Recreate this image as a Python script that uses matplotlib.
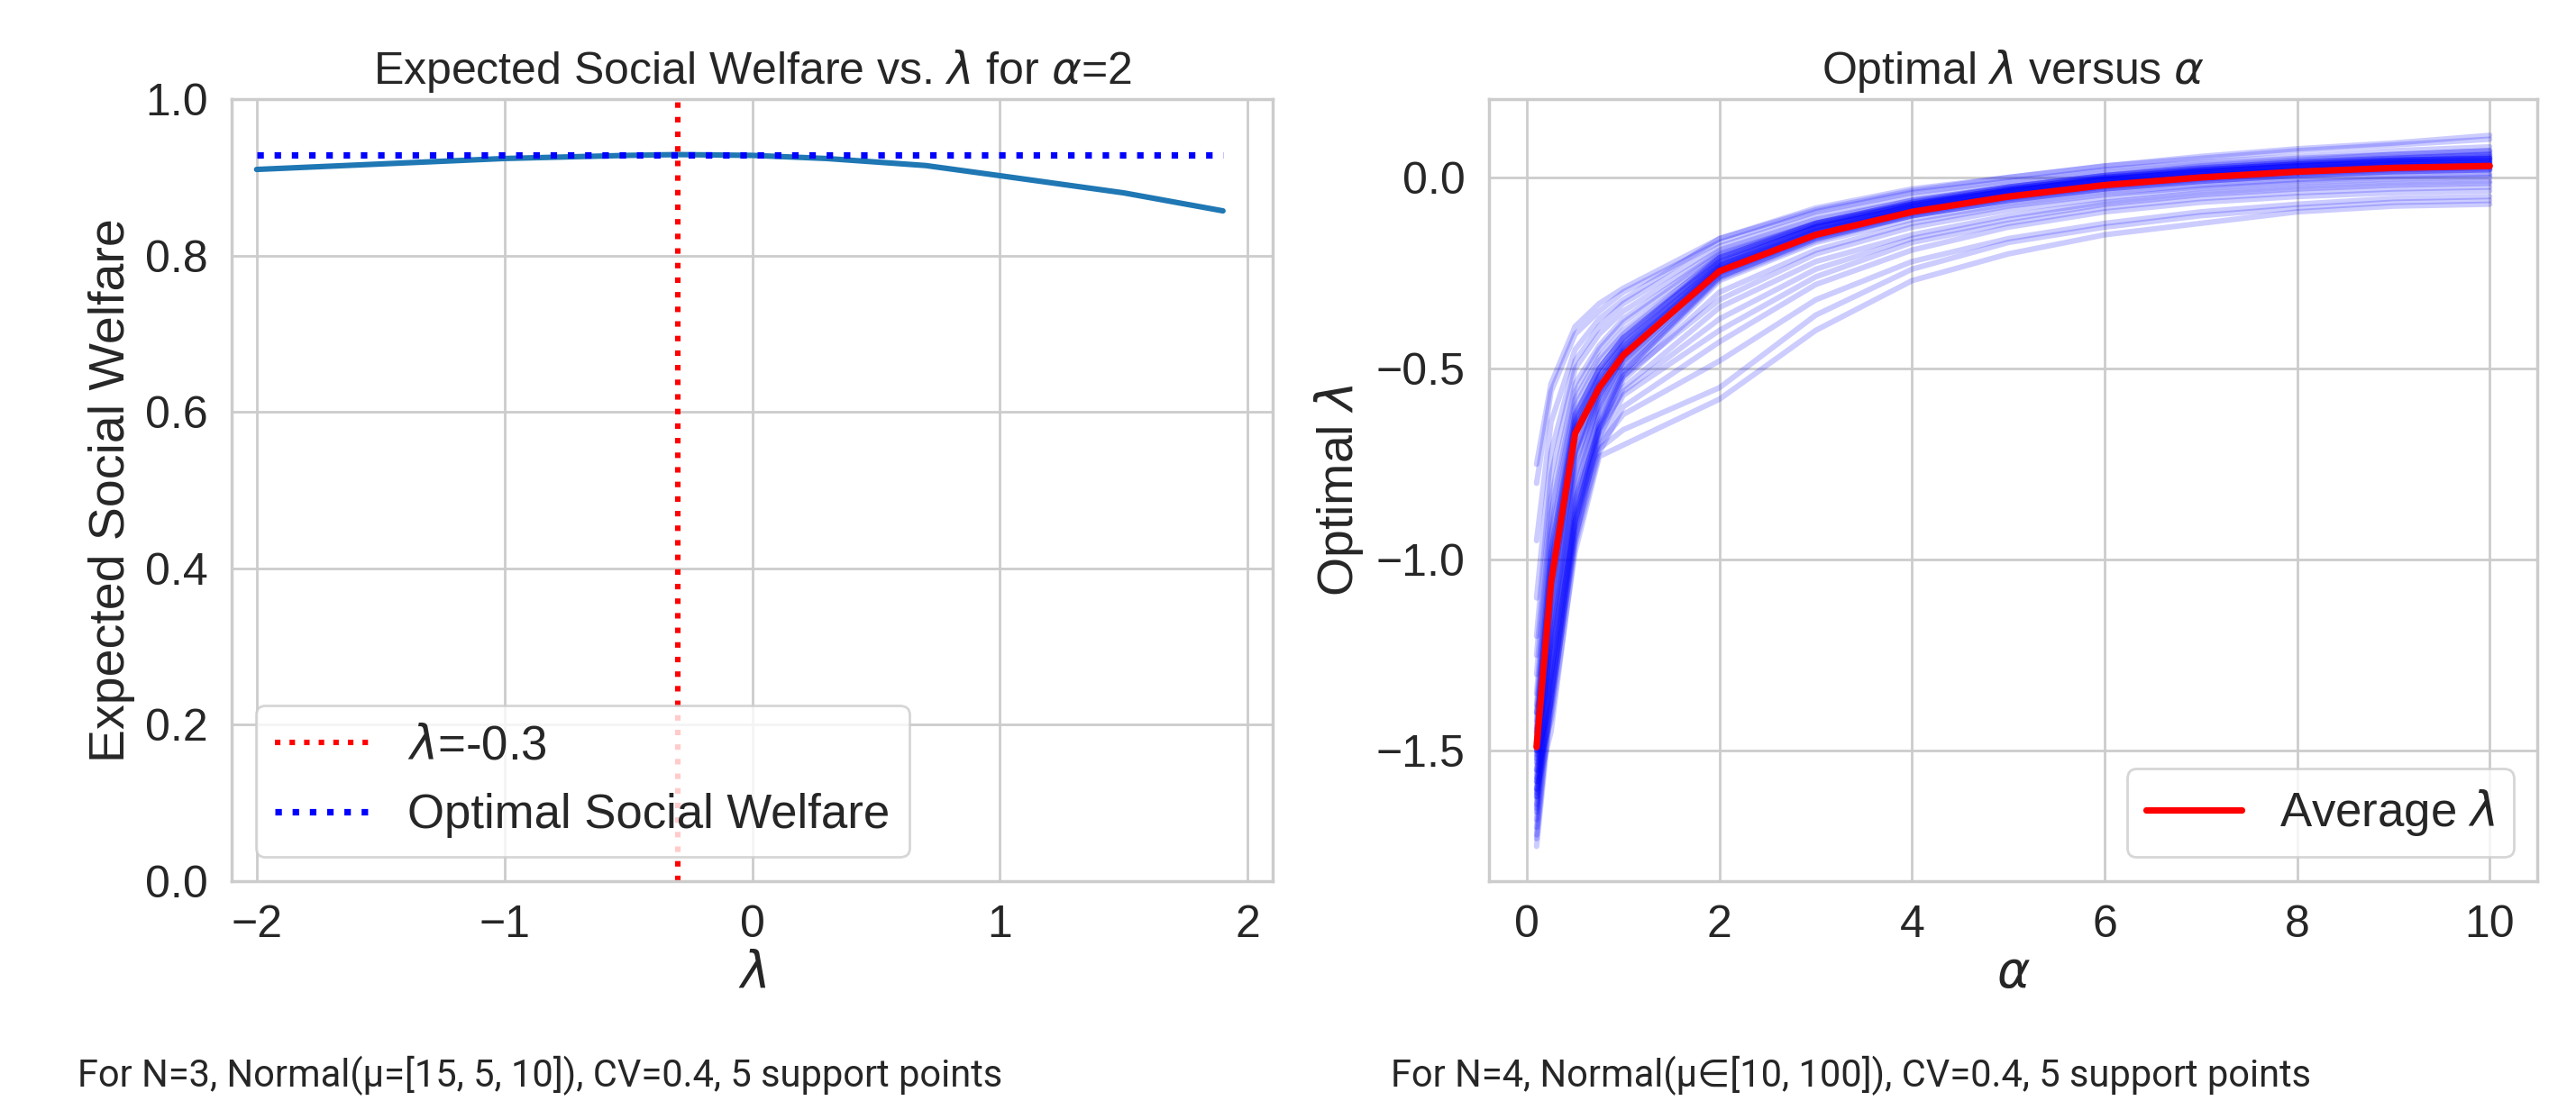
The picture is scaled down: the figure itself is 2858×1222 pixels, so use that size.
import matplotlib
matplotlib.use("Agg")
import matplotlib.pyplot as plt
import numpy as np
import seaborn as sns

# ---------------------------------------------------------------------------
# Left panel: expected social welfare vs lambda (alpha = 2)
# ---------------------------------------------------------------------------
lam_grid = [-2.0, -1.5, -1.0, -0.5, -0.3, 0.0, 0.3, 0.7, 1.0, 1.5, 1.9]
welfare = [0.910, 0.917, 0.924, 0.928, 0.929, 0.928, 0.924, 0.915, 0.902, 0.880, 0.857]
best_lam = -0.3
best_welfare = 0.928

# ---------------------------------------------------------------------------
# Right panel: optimal lambda vs alpha, one curve per sampled instance
# ---------------------------------------------------------------------------
alphas = [0.1, 0.25, 0.5, 0.75, 1, 2, 3, 4, 5, 6, 7, 8, 9, 10]
avg_lam = [-1.49, -1.06, -0.67, -0.55, -0.465, -0.245, -0.15, -0.09, -0.05, -0.02, 0.0, 0.015, 0.025, 0.03]

runs = [
    [-1.62, -1.20, -0.74, -0.57, -0.47, -0.24, -0.14, -0.08, -0.04, -0.01, 0.01, 0.025, 0.035, 0.04],
    [-1.40, -0.98, -0.62, -0.50, -0.42, -0.22, -0.13, -0.08, -0.04, -0.01, 0.01, 0.02, 0.03, 0.035],
    [-1.70, -1.32, -0.88, -0.62, -0.50, -0.26, -0.16, -0.10, -0.06, -0.03, -0.01, 0.005, 0.015, 0.02],
    [-1.55, -1.10, -0.66, -0.52, -0.44, -0.23, -0.14, -0.085, -0.045, -0.015, 0.005, 0.02, 0.03, 0.035],
    [-1.30, -0.88, -0.56, -0.45, -0.38, -0.20, -0.12, -0.07, -0.035, -0.005, 0.015, 0.03, 0.04, 0.05],
    [-1.45, -1.02, -0.64, -0.51, -0.43, -0.21, -0.125, -0.07, -0.03, 0.0, 0.02, 0.035, 0.045, 0.05],
    [-1.75, -1.38, -0.95, -0.66, -0.52, -0.27, -0.17, -0.11, -0.07, -0.04, -0.02, -0.005, 0.005, 0.01],
    [-1.20, -0.78, -0.50, -0.41, -0.35, -0.19, -0.11, -0.06, -0.025, 0.005, 0.025, 0.04, 0.05, 0.06],
    [-1.60, -1.18, -0.72, -0.56, -0.46, -0.235, -0.145, -0.085, -0.045, -0.015, 0.005, 0.02, 0.03, 0.035],
    [-1.50, -1.06, -0.67, -0.54, -0.45, -0.23, -0.135, -0.075, -0.035, -0.005, 0.015, 0.03, 0.04, 0.045],
    [-1.66, -1.28, -0.82, -0.60, -0.48, -0.25, -0.15, -0.09, -0.05, -0.02, 0.0, 0.015, 0.025, 0.03],
    [-1.35, -0.92, -0.58, -0.47, -0.40, -0.21, -0.12, -0.065, -0.03, 0.0, 0.02, 0.035, 0.045, 0.055],
    [-1.10, -0.72, -0.48, -0.39, -0.33, -0.18, -0.10, -0.05, -0.015, 0.015, 0.035, 0.05, 0.06, 0.07],
    [-0.80, -0.56, -0.41, -0.35, -0.30, -0.17, -0.09, -0.04, -0.01, 0.02, 0.04, 0.055, 0.07, 0.08],
    [-0.95, -0.64, -0.45, -0.37, -0.32, -0.16, -0.08, -0.03, 0.0, 0.03, 0.05, 0.07, 0.085, 0.10],
    [-1.58, -1.15, -0.72, -0.56, -0.46, -0.25, -0.155, -0.095, -0.055, -0.025, -0.005, 0.01, 0.02, 0.025],
    [-1.72, -1.35, -0.90, -0.64, -0.51, -0.265, -0.165, -0.10, -0.06, -0.03, -0.01, 0.005, 0.015, 0.02],
    [-1.48, -1.05, -0.65, -0.53, -0.44, -0.225, -0.13, -0.075, -0.035, -0.005, 0.015, 0.03, 0.04, 0.045],
    [-1.42, -0.98, -0.62, -0.50, -0.42, -0.215, -0.125, -0.07, -0.03, 0.0, 0.02, 0.035, 0.045, 0.05],
    [-1.64, -1.24, -0.78, -0.59, -0.48, -0.245, -0.15, -0.09, -0.05, -0.02, 0.0, 0.015, 0.025, 0.03],
    [-1.53, -1.09, -0.68, -0.54, -0.455, -0.235, -0.14, -0.08, -0.04, -0.01, 0.01, 0.025, 0.035, 0.04],
    [-1.68, -1.30, -0.85, -0.61, -0.49, -0.255, -0.155, -0.095, -0.055, -0.025, -0.005, 0.01, 0.02, 0.025],
    [-1.38, -0.94, -0.60, -0.48, -0.41, -0.205, -0.12, -0.065, -0.025, 0.005, 0.025, 0.04, 0.05, 0.06],
    [-1.57, -1.14, -0.71, -0.55, -0.455, -0.23, -0.135, -0.075, -0.035, -0.005, 0.015, 0.03, 0.04, 0.045],
    [-1.46, -1.02, -0.64, -0.52, -0.435, -0.22, -0.13, -0.07, -0.03, 0.0, 0.02, 0.035, 0.045, 0.055],
    [-1.61, -1.20, -0.75, -0.57, -0.47, -0.24, -0.145, -0.085, -0.045, -0.015, 0.005, 0.02, 0.03, 0.035],
    [-1.25, -0.84, -0.54, -0.44, -0.37, -0.195, -0.115, -0.06, -0.025, 0.005, 0.025, 0.04, 0.055, 0.065],
    [-1.73, -1.36, -0.92, -0.65, -0.51, -0.26, -0.16, -0.10, -0.06, -0.03, -0.01, 0.005, 0.015, 0.02],
    [-1.51, -1.07, -0.66, -0.53, -0.445, -0.225, -0.13, -0.075, -0.035, -0.005, 0.015, 0.03, 0.045, 0.05],
    [-1.44, -1.00, -0.63, -0.50, -0.42, -0.21, -0.12, -0.065, -0.025, 0.005, 0.03, 0.045, 0.06, 0.07],
    [-1.65, -1.26, -0.80, -0.58, -0.47, -0.24, -0.145, -0.085, -0.045, -0.015, 0.005, 0.02, 0.035, 0.04],
    [-0.75, -0.54, -0.39, -0.33, -0.29, -0.16, -0.085, -0.035, 0.0, 0.03, 0.055, 0.075, 0.09, 0.11],
    [-1.55, -1.42, -0.98, -0.73, -0.70, -0.58, -0.40, -0.27, -0.20, -0.15, -0.12, -0.09, -0.075, -0.07],
    [-1.50, -1.38, -0.94, -0.71, -0.66, -0.55, -0.36, -0.24, -0.17, -0.13, -0.10, -0.08, -0.065, -0.06],
    [-1.45, -1.30, -0.90, -0.70, -0.62, -0.48, -0.32, -0.22, -0.16, -0.12, -0.09, -0.07, -0.055, -0.05],
    [-1.60, -1.45, -0.96, -0.72, -0.60, -0.43, -0.28, -0.19, -0.13, -0.09, -0.065, -0.05, -0.04, -0.035],
    [-1.52, -1.34, -0.88, -0.69, -0.57, -0.40, -0.26, -0.17, -0.12, -0.08, -0.055, -0.04, -0.03, -0.025],
    [-1.40, -1.22, -0.84, -0.66, -0.56, -0.37, -0.24, -0.16, -0.11, -0.07, -0.045, -0.03, -0.02, -0.015],
    [-1.58, -1.40, -0.92, -0.68, -0.55, -0.34, -0.22, -0.15, -0.10, -0.065, -0.04, -0.025, -0.015, -0.01],
    [-1.48, -1.26, -0.86, -0.65, -0.52, -0.32, -0.20, -0.13, -0.085, -0.055, -0.03, -0.015, -0.005, 0.0],
    [-1.62, -1.36, -0.90, -0.66, -0.53, -0.30, -0.19, -0.12, -0.075, -0.045, -0.025, -0.01, 0.0, 0.005],
]

CAPTION_LEFT = "For N=3, Normal(μ=[15, 5, 10]), CV=0.4, 5 support points"
CAPTION_RIGHT = "For N=4, Normal(μ∈[10, 100]), CV=0.4, 5 support points"

sns.set_theme(style="whitegrid")
plt.rcParams["font.family"] = ["Liberation Sans", "DejaVu Sans"]
plt.rcParams["axes.unicode_minus"] = True

TICK_FS = 18
LABEL_FS = 20
TITLE_FS = 18
LEGEND_FS = 19
CAPTION_FS = 15

fig = plt.figure(figsize=(14.29, 6.11), dpi=200)
ax1 = fig.add_axes([0.09, 0.20, 0.404, 0.71])
ax2 = fig.add_axes([0.578, 0.20, 0.407, 0.71])

# --- left panel ---
ax1.plot(lam_grid, welfare, color="#1f77b4", linewidth=2.2)
ax1.axvline(best_lam, color="red", linestyle=":", linewidth=2.2,
            label=rf"$\lambda$={best_lam}")
ax1.hlines(best_welfare, min(lam_grid), max(lam_grid), color="blue",
           linestyle=":", linewidth=2.6, label="Optimal Social Welfare")
ax1.set_ylim(0, 1)
ax1.set_xlim(-2.1, 2.1)
ax1.set_xticks([-2, -1, 0, 1, 2])
ax1.set_title(r"Expected Social Welfare vs. $\lambda$ for $\alpha$=2", fontsize=TITLE_FS)
ax1.set_xlabel(r"$\lambda$", fontsize=LABEL_FS, labelpad=2)
ax1.set_ylabel("Expected Social Welfare", fontsize=LABEL_FS)
ax1.tick_params(labelsize=TICK_FS)
ax1.legend(loc="lower left", fontsize=LEGEND_FS)

# --- right panel ---
for run in runs:
    ax2.plot(alphas, run, color="blue", alpha=0.2, linewidth=2.2)
ax2.plot(alphas, avg_lam, color="red", linewidth=2.6, label=r"Average $\lambda$")
ax2.set_xlim(-0.395, 10.495)
ax2.set_ylim(-1.84, 0.205)
ax2.set_yticks([0.0, -0.5, -1.0, -1.5])
ax2.set_title(r"Optimal $\lambda$ versus $\alpha$", fontsize=TITLE_FS)
ax2.set_xlabel(r"$\alpha$", fontsize=LABEL_FS, labelpad=2)
ax2.set_ylabel(r"Optimal $\lambda$", fontsize=LABEL_FS)
ax2.tick_params(labelsize=TICK_FS)
ax2.legend(loc="lower right", fontsize=LEGEND_FS)

cap_fonts = ["Roboto", "DejaVu Sans"]
fig.text(0.030, 0.023, CAPTION_LEFT, family=cap_fonts, fontsize=CAPTION_FS, va="center", ha="left")
fig.text(0.540, 0.023, CAPTION_RIGHT, family=cap_fonts, fontsize=CAPTION_FS, va="center", ha="left")

fig.savefig("out.png", dpi=200)
plt.close(fig)
